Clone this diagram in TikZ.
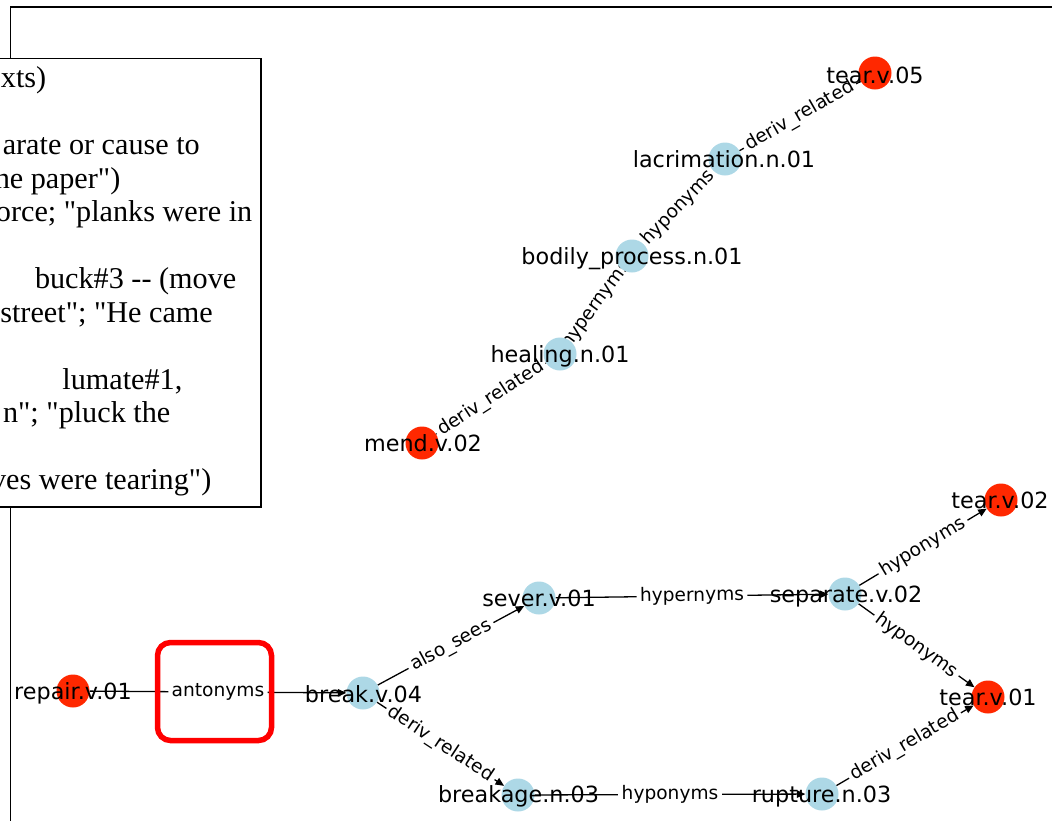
\documentclass[tikz,border=0pt]{standalone}
\usepackage{fontspec}
\newfontfamily\dvs{DejaVu Sans}
\newfontfamily\lser{Liberation Serif}
\usetikzlibrary{arrows.meta}
\pgfdeclarelayer{back}
\pgfdeclarelayer{edges}
\pgfsetlayers{back,edges,main}
\definecolor{nodered}{RGB}{255,40,0}
\definecolor{nodeblue}{RGB}{173,216,230}
\begin{document}
\begin{tikzpicture}[x=1pt,y=-1pt,
  vred/.style={circle,fill=nodered,minimum size=33pt,inner sep=0pt},
  vblue/.style={circle,fill=nodeblue,minimum size=33pt,inner sep=0pt},
  vtext/.style={anchor=base,inner sep=0pt,font=\dvs\fontsize{22.3}{25}\selectfont},
  edge/.style={line width=1.3pt},
  dedge/.style={edge,-{Triangle[length=8.5pt,width=7.5pt]}},
  elabel/.style={midway,sloped,fill=white,rounded corners=3pt,inner sep=3.5pt,font=\dvs\fontsize{18.6}{21}\selectfont},
  legline/.style={anchor=base east,inner sep=0pt,font=\lser\fontsize{30.2}{33.5}\selectfont},
]
\useasboundingbox (0,0) rectangle (1052,820);
\clip (0,0) rectangle (1052,820);

% outer frame
\begin{pgfonlayer}{back}
\draw[line width=1.3pt] (10.5,830) -- (10.5,7) -- (1060,7);
\end{pgfonlayer}

% legend
\filldraw[fill=white,line width=1.3pt] (-10,58.5) rectangle (261,507);
\begin{scope}
\clip (0,59.2) rectangle (260.3,506.3);
\node[legline] (l1) at (46.5,87.5) {xts)};
\node[legline] (l2) at (200,154.5) {arate or cause to};
\node[legline] (l3) at (120.5,188) {he paper")};
\node[legline] (l4) at (252.5,221.5) {orce; "planks were in};
\node[legline] (l5) at (236.5,288.5) {buck\#3 -{}- (move};
\node[legline] (l6) at (213,322) {street"; "He came};
\node[legline] (l7) at (182.5,389) {lumate\#1,};
\node[legline] (l8) at (170.5,422.5) {n"; "pluck the};
\node[legline] (l9) at (211.5,489.5) {ves were tearing")};
\end{scope}

% nodes (circles)
\node[vred]  (tear5) at (875,73) {};
\node[vblue] (lacr)  at (725,159) {};
\node[vblue] (bod)   at (632,256) {};
\node[vblue] (heal)  at (560,354) {};
\node[vred]  (mend)  at (422,443) {};
\node[vred]  (tear2) at (1001,500) {};
\node[vblue] (sep)   at (845,594) {};
\node[vblue] (sever) at (539,598) {};
\node[vred]  (repair) at (73,691) {};
\node[vblue] (brk)   at (363,693) {};
\node[vred]  (tear1) at (988,697) {};
\node[vblue] (brkg)  at (518,795) {};
\node[vblue] (rupt)  at (822,794) {};

% node labels
\node[vtext] (tear5t) at (875,83) {tear.v.05};
\node[vtext] (lacrt)  at (724,167.5) {lacrimation.n.01};
\node[vtext] (bodt)   at (632,264) {bodily\_process.n.01};
\node[vtext] (healt)  at (560,362.5) {healing.n.01};
\node[vtext] (mendt)  at (423,451.5) {mend.v.02};
\node[vtext] (tear2t) at (1000,508.5) {tear.v.02};
\node[vtext] (sept)   at (846,602.5) {separate.v.02};
\node[vtext] (severt) at (539,606) {sever.v.01};
\node[vtext] (repairt) at (73,699.5) {repair.v.01};
\node[vtext] (brkt)   at (363.5,702) {break.v.04};
\node[vtext] (tear1t) at (988,705.5) {tear.v.01};
\node[vtext] (brkgt)  at (518.5,802.5) {breakage.n.03};
\node[vtext] (ruptt)  at (821.5,802) {rupture.n.03};

% edges
\begin{pgfonlayer}{edges}
\draw[edge] (mend) -- node[elabel] {deriv\_related} (heal);
\draw[edge] (heal) -- node[elabel] {hypernyms} (bod);
\draw[edge] (bod) -- node[elabel] {hyponyms} (lacr);
\draw[edge] (lacr) -- node[elabel] {deriv\_related} (tear5);
\draw[dedge] (repair) -- node[elabel] {antonyms} (brk);
\draw[dedge] (brk) -- node[elabel] {also\_sees} (sever);
\draw[dedge] (brk) -- node[elabel] {deriv\_related} (brkg);
\draw[dedge] (sever) -- node[elabel] {hypernyms} (sep);
\draw[dedge] (sep) -- node[elabel] {hyponyms} (tear2);
\draw[dedge] (sep) -- node[elabel] {hyponyms} (tear1);
\draw[dedge] (brkg) -- node[elabel] {hyponyms} (rupt);
\draw[dedge] (rupt) -- node[elabel] {deriv\_related} (tear1);
\end{pgfonlayer}

% highlight box
\node[draw=red,line width=5.5pt,rounded corners=13pt,minimum width=114pt,minimum height=98pt,inner sep=0pt] (hl) at (214.5,691.5) {};
\end{tikzpicture}
\end{document}
